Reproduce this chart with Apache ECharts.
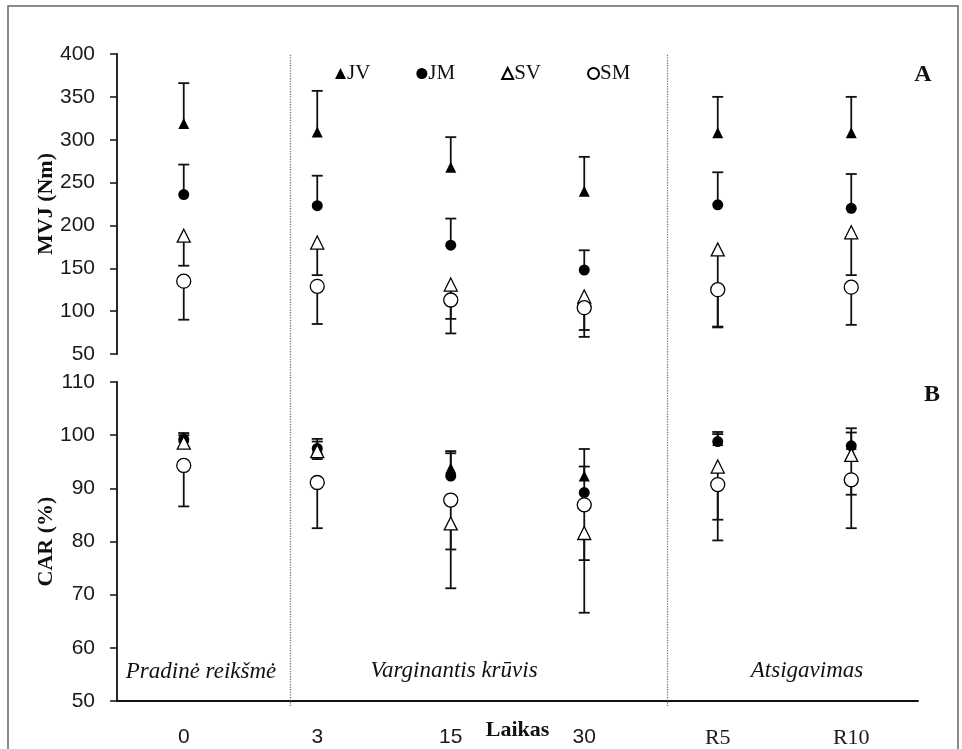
<!DOCTYPE html>
<html>
<head>
<meta charset="utf-8">
<script src="https://cdn.jsdelivr.net/npm/echarts/dist/echarts.min.js"></script>
<style>
html, body { margin: 0; padding: 0; background: #fff; }
#main { width: 962px; height: 749px; }
</style>
</head>
<body>
<div id="main"></div>
<script>
var categories = ['0', '3', '15', '30', 'R5', 'R10'];

// A: MVJ (Nm)
var jvMvj = [319, 309, 268, 240, 308, 308];
var jvMvjHi = [366, 357, 303, 280, 350, 350];
var jmMvj = [236, 223, 177, 148, 224, 220];
var jmMvjHi = [271, 258, 208, 171, 262, 260];
var svMvj = [188, 180, 131, 117, 172, 192];
var svMvjLo = [153, 142, 91, 78, 82, 142];
var smMvj = [135, 129, 113, 104, 125, 128];
var smMvjLo = [90, 85, 74, 70, 81, 84];

// B: CAR (%)
var jvCar = [99.6, 97.6, 93.8, 92.3, 99.0, 98.3];
var jvCarHi = [100.4, 99.3, 97.0, 97.4, 100.6, 101.3];
var jmCar = [99.2, 97.5, 92.3, 89.2, 98.8, 98.0];
var jmCarHi = [100.0, 98.8, 96.6, 94.1, 100.2, 100.5];
var svCar = [98.6, 97.0, 83.4, 81.6, 94.1, 96.3];
var svCarLo = [97.8, 95.5, 71.2, 66.6, 84.1, 88.8];
var smCar = [94.3, 91.1, 87.8, 86.9, 90.7, 91.6];
var smCarLo = [86.6, 82.5, 78.5, 76.5, 80.2, 82.5];

var mvjRange = [50, 400, 50];
var carRange = [50, 110, 10];
// dotted phase separators, in units of category width (0..6)
var separators = [1.3, 4.12];

var chart = echarts.init(document.getElementById('main'));

function renderErr(params, api) {
	var p = api.coord([api.value(0), api.value(1)]);
	var e = api.coord([api.value(0), api.value(2)]);
	var hw = 5.5;
	var st = { stroke: '#111', lineWidth: 1.8 };
	return {
		type: 'group',
		children: [
			{ type: 'line', shape: { x1: p[0], y1: p[1], x2: e[0], y2: e[1] }, style: st },
			{ type: 'line', shape: { x1: e[0] - hw, y1: e[1], x2: e[0] + hw, y2: e[1] }, style: st }
		]
	};
}

function errSeries(idx, vals, ends) {
	return {
		type: 'custom',
		xAxisIndex: idx,
		yAxisIndex: idx,
		silent: true,
		z: 2,
		renderItem: renderErr,
		encode: { x: 0, y: [1, 2] },
		data: vals.map(function(v, i) { return [i, v, ends[i]]; })
	};
}

function pointSeries(name, idx, vals, symbol, size, empty) {
	return {
		name: name,
		type: 'scatter',
		xAxisIndex: idx,
		yAxisIndex: idx,
		symbol: symbol,
		symbolSize: size,
		z: 3,
		itemStyle: {
			color: empty ? '#fff' : '#000',
			borderColor: '#000',
			borderWidth: empty ? 1.3 : 0,
			opacity: 1
		},
		data: vals.map(function(v, i) { return [i, v]; })
	};
}

function $extend(a, b) {
	for (var k in b) a[k] = b[k];
	return a;
}

var tickFont = { fontFamily: 'Liberation Sans', fontSize: 21, color: '#1a1a1a' };
var nameFont = { fontFamily: 'Liberation Serif', fontSize: 22, fontWeight: 'bold', color: '#111' };
var italicFont = { fontFamily: 'Liberation Serif', fontSize: 23, fontStyle: 'italic', fill: '#111' };

function yAxis(idx, range, name) {
	return {
		type: 'value',
		gridIndex: idx,
		min: range[0],
		max: range[1],
		interval: range[2],
		name: name,
		nameLocation: 'middle',
		nameGap: 60,
		nameMoveOverlap: false,
		nameTextStyle: nameFont,
		axisLine: { show: true, lineStyle: { color: '#111', width: 1.8 } },
		axisTick: { show: true, length: 7, lineStyle: { color: '#111', width: 1.5 } },
		axisLabel: $extend({ margin: 22 }, tickFont),
		splitLine: { show: false }
	};
}

var option = {
	animation: false,
	backgroundColor: '#fff',
	legend: {
		left: 330,
		top: 58,
		itemGap: 46,
		itemWidth: 11,
		itemHeight: 11,
		textStyle: { fontFamily: 'Liberation Serif', fontSize: 21, color: '#111', padding: [0, 0, 0, -4] },
		data: ['JV', 'JM', 'SV', 'SM']
	},
	grid: [
		{ left: 117, right: 44, top: 54, height: 300 },
		{ left: 117, right: 44, top: 382, height: 320 },
		{ left: 117, right: 44, top: 54, height: 652 }
	],
	xAxis: [{
		type: 'category',
		gridIndex: 0,
		data: categories,
		show: false
	}, {
		type: 'category',
		gridIndex: 1,
		data: categories,
		name: 'Laikas',
		nameLocation: 'middle',
		nameGap: 18,
		nameMoveOverlap: false,
		nameTextStyle: nameFont,
		axisLine: { lineStyle: { color: '#111', width: 1.8 } },
		axisTick: { length: 7, lineStyle: { color: '#111', width: 1.5 } },
		axisLabel: {
			margin: 26,
			fontFamily: 'Liberation Sans',
			fontSize: 21,
			color: '#1a1a1a',
			formatter: function(v) {
				return /^R/.test(v) ? '{s|' + v + '}' : v;
			},
			rich: {
				s: { fontFamily: 'Liberation Serif', fontSize: 22, color: '#1a1a1a' }
			}
		}
	}, {
		type: 'value',
		gridIndex: 2,
		min: 0,
		max: 6,
		show: false
	}],
	yAxis: [
		yAxis(0, mvjRange, 'MVJ (Nm)'),
		yAxis(1, carRange, 'CAR (%)'),
		{ type: 'value', gridIndex: 2, min: 0, max: 1, show: false }
	],
	series: [
		errSeries(0, jvMvj, jvMvjHi),
		errSeries(0, jmMvj, jmMvjHi),
		errSeries(0, svMvj, svMvjLo),
		errSeries(0, smMvj, smMvjLo),
		errSeries(1, jvCar, jvCarHi),
		errSeries(1, jmCar, jmCarHi),
		errSeries(1, svCar, svCarLo),
		errSeries(1, smCar, smCarLo),
		pointSeries('JV', 0, jvMvj, 'triangle', 11, false),
		pointSeries('JM', 0, jmMvj, 'circle', 11, false),
		pointSeries('SV', 0, svMvj, 'triangle', 13, true),
		pointSeries('SM', 0, smMvj, 'circle', 14, true),
		pointSeries('JV', 1, jvCar, 'triangle', 11, false),
		pointSeries('JM', 1, jmCar, 'circle', 11, false),
		pointSeries('SV', 1, svCar, 'triangle', 13, true),
		pointSeries('SM', 1, smCar, 'circle', 14, true),
		{
			type: 'line',
			xAxisIndex: 2,
			yAxisIndex: 2,
			data: [],
			markLine: {
				silent: true,
				symbol: 'none',
				label: { show: false },
				lineStyle: { type: 'dotted', color: '#777', width: 1.3 },
				data: separators.map(function(s) { return { xAxis: s }; })
			}
		}
	],
	graphic: [
		{ type: 'rect', shape: { x: 8, y: 6, width: 950, height: 780 }, style: { fill: 'none', stroke: '#666', lineWidth: 1.5 }, silent: true },
		{ type: 'text', x: 923, y: 75, style: { text: 'A', fontFamily: 'Liberation Serif', fontSize: 24, fontWeight: 'bold', fill: '#111', textAlign: 'center', textVerticalAlign: 'middle' } },
		{ type: 'text', x: 932, y: 395, style: { text: 'B', fontFamily: 'Liberation Serif', fontSize: 24, fontWeight: 'bold', fill: '#111', textAlign: 'center', textVerticalAlign: 'middle' } },
		{ type: 'text', x: 201, y: 672, style: $extend({ text: 'Pradinė reikšmė', textAlign: 'center', textVerticalAlign: 'middle' }, italicFont) },
		{ type: 'text', x: 454, y: 671, style: $extend({ text: 'Varginantis krūvis', textAlign: 'center', textVerticalAlign: 'middle' }, italicFont) },
		{ type: 'text', x: 807, y: 671, style: $extend({ text: 'Atsigavimas', textAlign: 'center', textVerticalAlign: 'middle' }, italicFont) }
	]
};

chart.setOption(option);
window.onresize = chart.resize;
</script>
</body>
</html>
